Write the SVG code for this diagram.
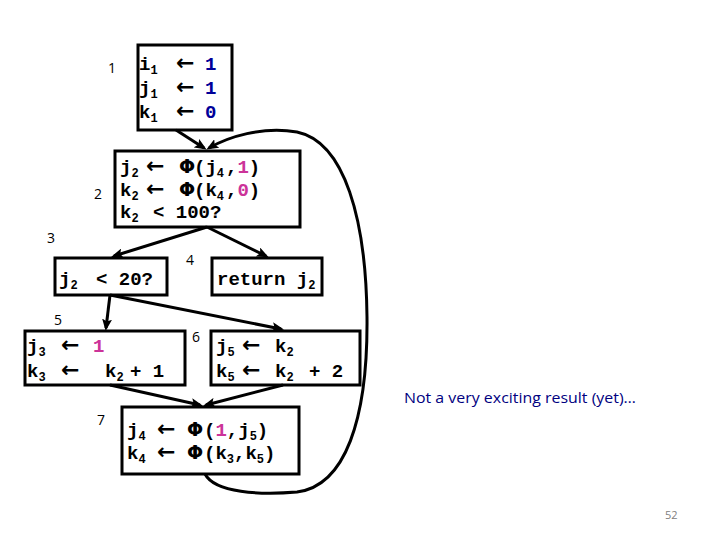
<svg xmlns="http://www.w3.org/2000/svg" width="720" height="540" viewBox="0 0 720 540">
<style>
.box{fill:#fff;stroke:#000;stroke-width:3}
.code{font-family:"Liberation Mono","Courier New",monospace;font-weight:bold;font-size:19px;fill:#000}
.sub{font-size:12px}
.sym{font-family:"DejaVu Sans",sans-serif;font-weight:bold}
.arr{font-family:"DejaVu Sans",sans-serif;font-weight:bold;font-size:22px}
.blue{fill:#000099}
.pink{fill:#CC3399}
.lbl{font-family:"Open Sans","Liberation Sans",sans-serif;font-size:14px;fill:#000}
.edge{fill:none;stroke:#000;stroke-width:3}
</style>
<defs>
<marker id="ah" viewBox="0 0 12 10" refX="9" refY="5" markerWidth="12" markerHeight="10" markerUnits="userSpaceOnUse" orient="auto">
<path d="M0,0 L12,5 L0,10 L2.5,5 z" fill="#000"/>
</marker>
</defs>
<rect width="720" height="540" fill="#fff"/>

<g id="n1">
<rect class="box" x="138" y="45" width="94" height="85"/>
<text class="lbl" x="108" y="73">1</text>
<text class="code"><tspan x="139" y="70">i</tspan><tspan class="sub" y="74">1</tspan><tspan class="arr" x="176" y="70">←</tspan><tspan class="blue" x="205" y="70">1</tspan></text>
<text class="code"><tspan x="139" y="94">j</tspan><tspan class="sub" y="98">1</tspan><tspan class="arr" x="176" y="94">←</tspan><tspan class="blue" x="205" y="94">1</tspan></text>
<text class="code"><tspan x="139" y="118">k</tspan><tspan class="sub" y="122">1</tspan><tspan class="arr" x="176" y="118">←</tspan><tspan class="blue" x="205" y="118">0</tspan></text>
</g>

<g id="n2">
<rect class="box" x="115" y="151" width="185" height="76"/>
<text class="lbl" x="94" y="199">2</text>
<text class="code"><tspan x="120" y="173">j</tspan><tspan class="sub" y="177">2</tspan><tspan class="arr" x="146" y="173">←</tspan><tspan class="sym" x="179" y="173">Φ</tspan><tspan x="194" y="173">(j</tspan><tspan class="sub" y="177">4</tspan><tspan x="226" y="173">,</tspan><tspan class="pink">1</tspan><tspan>)</tspan></text>
<text class="code"><tspan x="120" y="196">k</tspan><tspan class="sub" y="200">2</tspan><tspan class="arr" x="146" y="196">←</tspan><tspan class="sym" x="179" y="196">Φ</tspan><tspan x="194" y="196">(k</tspan><tspan class="sub" y="200">4</tspan><tspan x="226" y="196">,</tspan><tspan class="pink">0</tspan><tspan>)</tspan></text>
<text class="code"><tspan x="120" y="218">k</tspan><tspan class="sub" y="222">2</tspan><tspan x="153" y="218">&lt; 100?</tspan></text>
</g>

<g id="n3">
<rect class="box" x="55" y="258" width="112" height="37"/>
<text class="lbl" x="47" y="243">3</text>
<text class="code"><tspan x="59" y="285">j</tspan><tspan class="sub" y="289">2</tspan><tspan x="96" y="285">&lt; 20?</tspan></text>
</g>

<g id="n4">
<rect class="box" x="212" y="258" width="110" height="37"/>
<text class="lbl" x="186" y="265">4</text>
<text class="code"><tspan x="217" y="285">return j</tspan><tspan class="sub" y="289">2</tspan></text>
</g>

<g id="n5">
<rect class="box" x="25" y="331" width="160" height="54"/>
<text class="lbl" x="54" y="325">5</text>
<text class="code"><tspan x="27" y="352">j</tspan><tspan class="sub" y="356">3</tspan><tspan class="arr" x="61" y="352">←</tspan><tspan class="pink" x="93" y="352">1</tspan></text>
<text class="code"><tspan x="27" y="377">k</tspan><tspan class="sub" y="381">3</tspan><tspan class="arr" x="61" y="377">←</tspan><tspan x="105" y="377">k</tspan><tspan class="sub" y="381">2</tspan><tspan x="130" y="377">+ 1</tspan></text>
</g>

<g id="n6">
<rect class="box" x="211" y="331" width="149" height="54"/>
<text class="lbl" x="192" y="342">6</text>
<text class="code"><tspan x="216" y="352">j</tspan><tspan class="sub" y="356">5</tspan><tspan class="arr" x="242" y="352">←</tspan><tspan x="275" y="352">k</tspan><tspan class="sub" y="356">2</tspan></text>
<text class="code"><tspan x="216" y="377">k</tspan><tspan class="sub" y="381">5</tspan><tspan class="arr" x="242" y="377">←</tspan><tspan x="275" y="377">k</tspan><tspan class="sub" y="381">2</tspan><tspan x="309" y="377">+ 2</tspan></text>
</g>

<g id="n7">
<rect class="box" x="122" y="407" width="177" height="67"/>
<text class="lbl" x="97" y="425">7</text>
<text class="code"><tspan x="127" y="436">j</tspan><tspan class="sub" y="440">4</tspan><tspan class="arr" x="157" y="436">←</tspan><tspan class="sym" x="187" y="436">Φ</tspan><tspan x="204" y="436">(</tspan><tspan class="pink">1</tspan><tspan>,j</tspan><tspan class="sub" y="440">5</tspan><tspan y="436">)</tspan></text>
<text class="code"><tspan x="127" y="459">k</tspan><tspan class="sub" y="463">4</tspan><tspan class="arr" x="157" y="459">←</tspan><tspan class="sym" x="187" y="459">Φ</tspan><tspan x="204" y="459">(k</tspan><tspan class="sub" y="463">3</tspan><tspan y="459">,k</tspan><tspan class="sub" y="463">5</tspan><tspan y="459">)</tspan></text>
</g>

<g id="connectors">
<line class="edge" x1="176" y1="130" x2="204" y2="148" marker-end="url(#ah)"/>
<path class="edge" d="M205,474 C215,493 260,495 297,492 C345,486 368,420 367,317 C366,220 345,142 297,132 C262,126 228,137 209,148" marker-end="url(#ah)"/>
<line class="edge" x1="207" y1="227" x2="114" y2="256" marker-end="url(#ah)"/>
<line class="edge" x1="207" y1="227" x2="266" y2="256" marker-end="url(#ah)"/>
<line class="edge" x1="110" y1="295" x2="106" y2="328" marker-end="url(#ah)"/>
<line class="edge" x1="110" y1="295" x2="281" y2="329" marker-end="url(#ah)"/>
<line class="edge" x1="110" y1="385" x2="200" y2="405" marker-end="url(#ah)"/>
<line class="edge" x1="283" y1="385" x2="206" y2="405" marker-end="url(#ah)"/>
</g>

<text x="404" y="403" font-family="Open Sans, Liberation Sans, sans-serif" font-size="14" fill="#000080" textLength="232" lengthAdjust="spacingAndGlyphs">Not a very exciting result (yet)…</text>
<text x="665" y="519" font-family="Open Sans, Liberation Sans, sans-serif" font-size="11" fill="#808080">52</text>
</svg>
